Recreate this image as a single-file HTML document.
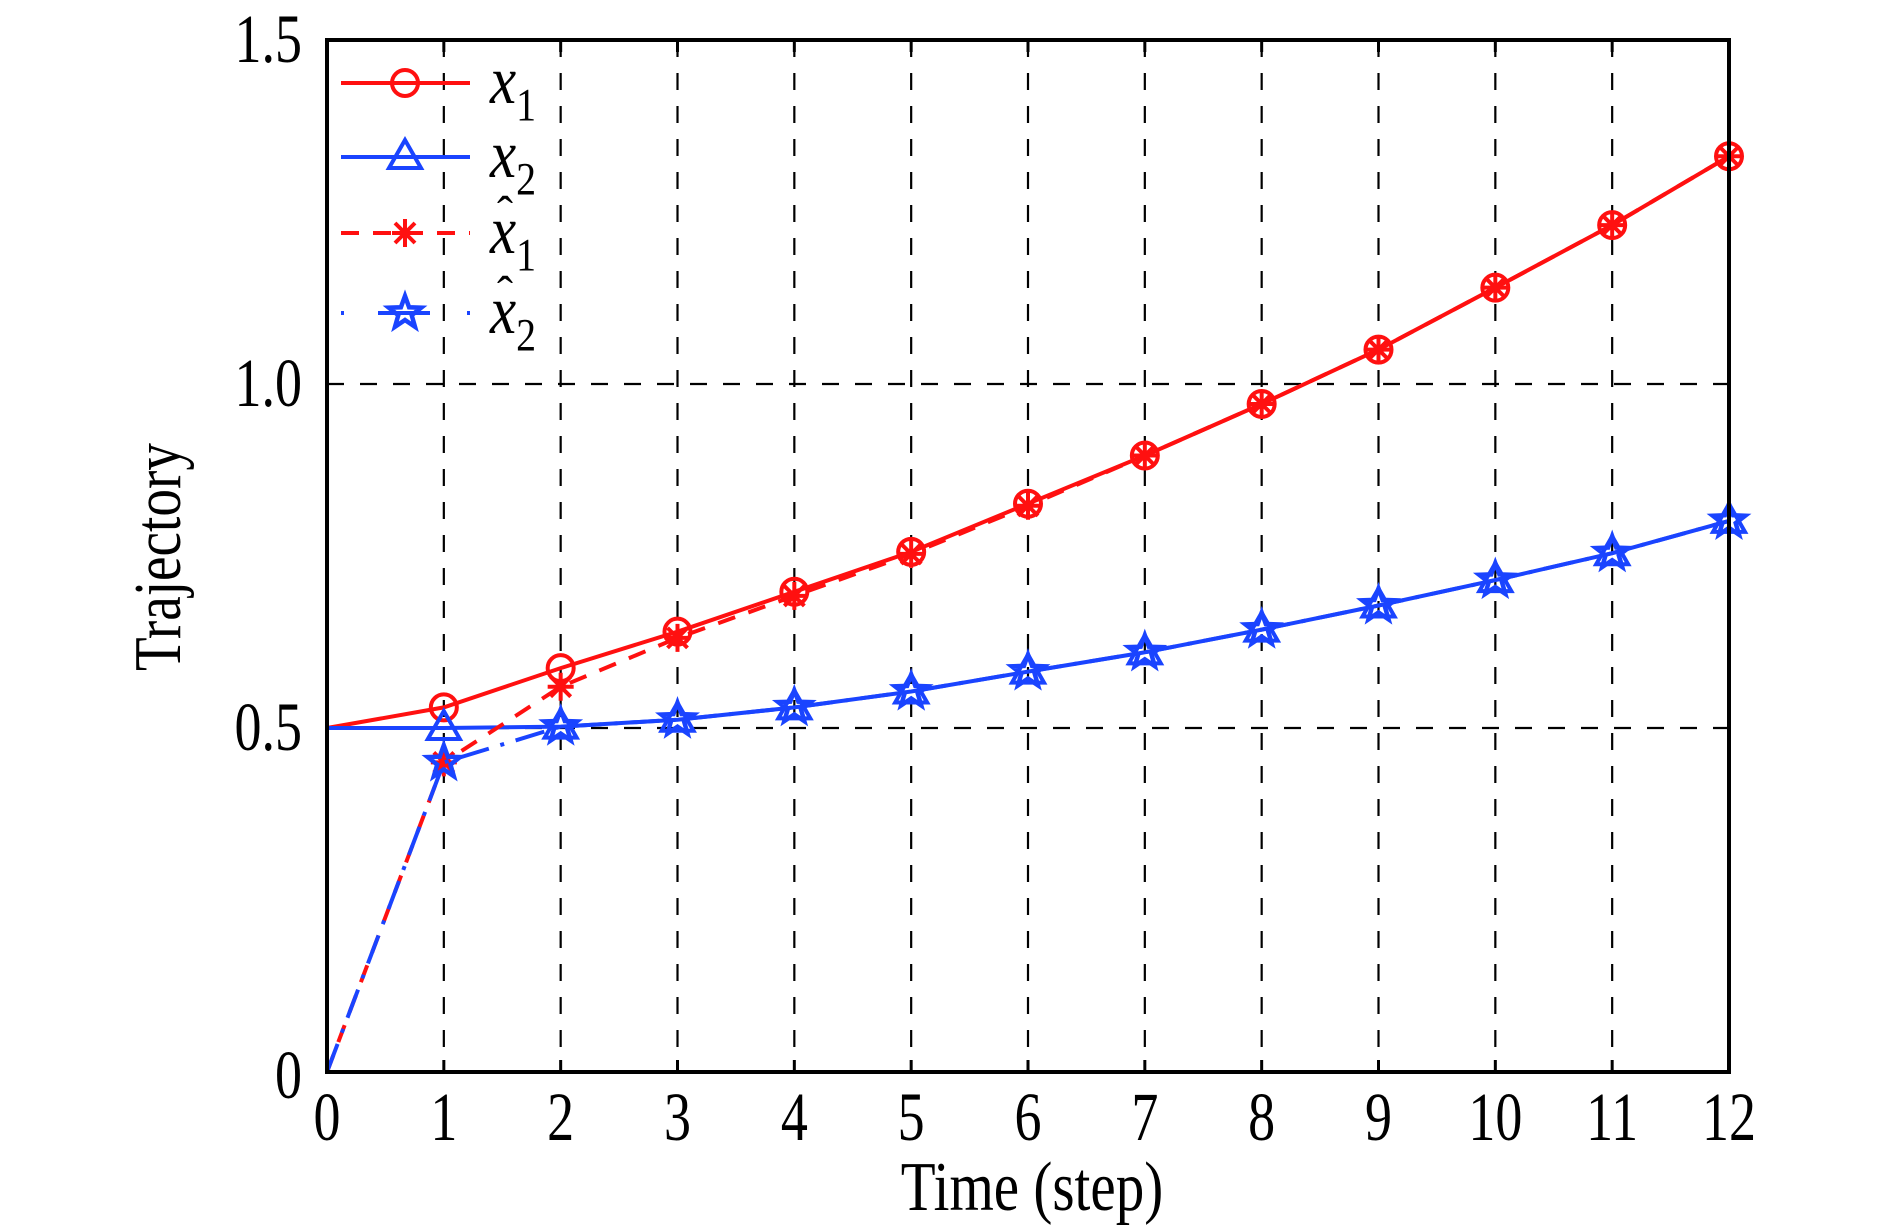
<!DOCTYPE html>
<html><head><meta charset="utf-8"><style>
html,body{margin:0;padding:0;background:#fff;}
svg{display:block;font-family:"Liberation Serif",serif;}
</style></head><body>
<svg id="chart" width="1890" height="1231" viewBox="0 0 1890 1231" xmlns="http://www.w3.org/2000/svg">
<rect width="1890" height="1231" fill="#fff"/>
<g id="grid"></g>
<g id="series"></g>
<g id="axes"></g>
<text transform="translate(1032,1210) scale(0.92,1.12)" font-size="62" text-anchor="middle">Time (step)</text>
<text transform="translate(180,557) rotate(-90) scale(0.92,1.12)" font-size="60" text-anchor="middle">Trajectory</text>
<g id="legend"></g>
</svg>
<script>
const steps = [0,1,2,3,4,5,6,7,8,9,10,11,12];
const x1 = [0.5,0.530,0.587,0.640,0.698,0.756,0.826,0.896,0.971,1.050,1.140,1.231,1.331];
const x2 = [0.5,0.500,0.502,0.512,0.530,0.553,0.582,0.610,0.643,0.678,0.715,0.754,0.801];
const x1hat = [0,0.450,0.560,0.631,0.692,0.753,0.823,0.896,0.971,1.050,1.140,1.231,1.331];
const x2hat = [0,0.450,0.502,0.512,0.530,0.553,0.582,0.610,0.643,0.678,0.715,0.754,0.801];
const xTicks = [0,1,2,3,4,5,6,7,8,9,10,11,12];
const yTicks = [0,0.5,1.0,1.5];
const yTickLabels = ["0","0.5","1.0","1.5"];

const L=327,R=1729,T=40,B=1072;
const X=v=>L+(v-0)/(12-0)*(R-L);
const Y=v=>B-(v-0)/(1.5-0)*(B-T);
const NS="http://www.w3.org/2000/svg";
function mk(tag,attrs,parent){const e=document.createElementNS(NS,tag);for(const k in attrs)e.setAttribute(k,attrs[k]);parent.appendChild(e);return e;}
const grid=document.getElementById('grid'),ser=document.getElementById('series'),axes=document.getElementById('axes'),leg=document.getElementById('legend');

xTicks.forEach(t=>{
  if(t>0&&t<12){const g=mk('line',{x1:X(t),x2:X(t),y1:T,y2:B,stroke:'#000','stroke-width':2.2,'stroke-dasharray':'17 16'},grid);
  
  }
  const tk=mk('line',{x1:X(t),x2:X(t),y1:B,y2:B-12,stroke:'#000','stroke-width':3},axes);
  
  
  const tk2=mk('line',{x1:X(t),x2:X(t),y1:T,y2:T+12,stroke:'#000','stroke-width':3},axes);
  
  
  const lb=mk('text',{transform:`translate(${X(t)},1140) scale(0.9,1.15)`,'font-size':60,'text-anchor':'middle'},axes);
  lb.textContent=t;
  
  
});
yTicks.forEach((t,i)=>{
  if(t>0&&t<1.5){const g=mk('line',{x1:L,x2:R,y1:Y(t),y2:Y(t),stroke:'#000','stroke-width':2.2,'stroke-dasharray':'17 16'},grid);
  
  }
  const lb=mk('text',{transform:`translate(302,${Y(t)+(t===0?26:22)}) scale(0.9,1.15)`,'font-size':60,'text-anchor':'end'},axes);
  lb.textContent=yTickLabels[i];
  
  
});
const frame=mk('rect',{x:L,y:T,width:R-L,height:B-T,fill:'none',stroke:'#000','stroke-width':4},axes);



const RED='#ff1010',BLUE='#1a44ff';
function marker(type,cx,cy,color,parent){
  let e;
  if(type==='circle'){e=mk('circle',{cx:cx,cy:cy,r:13,fill:'none',stroke:color,'stroke-width':4},parent);}
  else if(type==='tri'){e=mk('polygon',{points:`${cx},${cy-17} ${cx-16},${cy+11} ${cx+16},${cy+11}`,fill:'none',stroke:color,'stroke-width':4},parent);}
  else if(type==='ast'){e=mk('path',{d:`M${cx-13},${cy}H${cx+13}M${cx},${cy-14}V${cy+14}M${cx-10},${cy-10}L${cx+10},${cy+10}M${cx-10},${cy+10}L${cx+10},${cy-10}`,fill:'none',stroke:color,'stroke-width':4},parent);}
  else {let p=[];for(let k=0;k<10;k++){const a=-Math.PI/2+k*Math.PI/5,r=k%2?7:17;p.push((cx+r*Math.cos(a)).toFixed(1)+','+(cy+r*Math.sin(a)).toFixed(1));}
    e=mk('polygon',{points:p.join(' '),fill:'none',stroke:color,'stroke-width':4.5},parent);}
  return e;
}
const specs=[
 {vals:x1,color:RED,dash:'',m:'circle',name:'x1'},
 {vals:x2,color:BLUE,dash:'',m:'tri',name:'x2'},
 {vals:x1hat,color:RED,dash:'18 14',m:'ast',name:'x1-hat'},
 {vals:x2hat,color:BLUE,dash:'30 12 4 12',m:'star',name:'x2-hat'}
];
specs.forEach(s=>{
  const g=mk('g',{},ser);
  
  
  const pts=s.vals.map((v,i)=>X(steps[i]).toFixed(1)+','+Y(v).toFixed(1)).join(' ');
  const pl=mk('polyline',{points:pts,fill:'none',stroke:s.color,'stroke-width':4,'stroke-dasharray':s.dash},g);
  
  
  s.vals.forEach((v,i)=>{
    if(i===0)return;
    const mm=marker(s.m,X(steps[i]),Y(v),s.color,g);
    
    
  });
});
// legend
const ly=[83,157,233,313],labels=[['x','1',false],['x','2',false],['x','1',true],['x','2',true]];
const legDash=['','','18 14','3 60'];
specs.forEach((s,i)=>{
  const g=mk('g',{},leg);
  
  
  mk('line',{x1:341,x2:470,y1:ly[i],y2:ly[i],stroke:s.color,'stroke-width':4,'stroke-dasharray':legDash[i]},g);
  if(i===3){mk('line',{x1:378,x2:430,y1:ly[i],y2:ly[i],stroke:s.color,'stroke-width':4},g);}
  marker(s.m,405,ly[i],s.color,g);
  const t=mk('text',{transform:`translate(490,${ly[i]+20}) scale(0.95,1.1)`,'font-size':62},g);
  t.innerHTML=`<tspan font-style="italic">x</tspan><tspan font-size="42" dy="16">${labels[i][1]}</tspan>`;
  if(labels[i][2]){const h=mk('text',{x:497,y:ly[i]-4,'font-size':48},g);h.textContent='ˆ';}
});
</script>
</body></html>
